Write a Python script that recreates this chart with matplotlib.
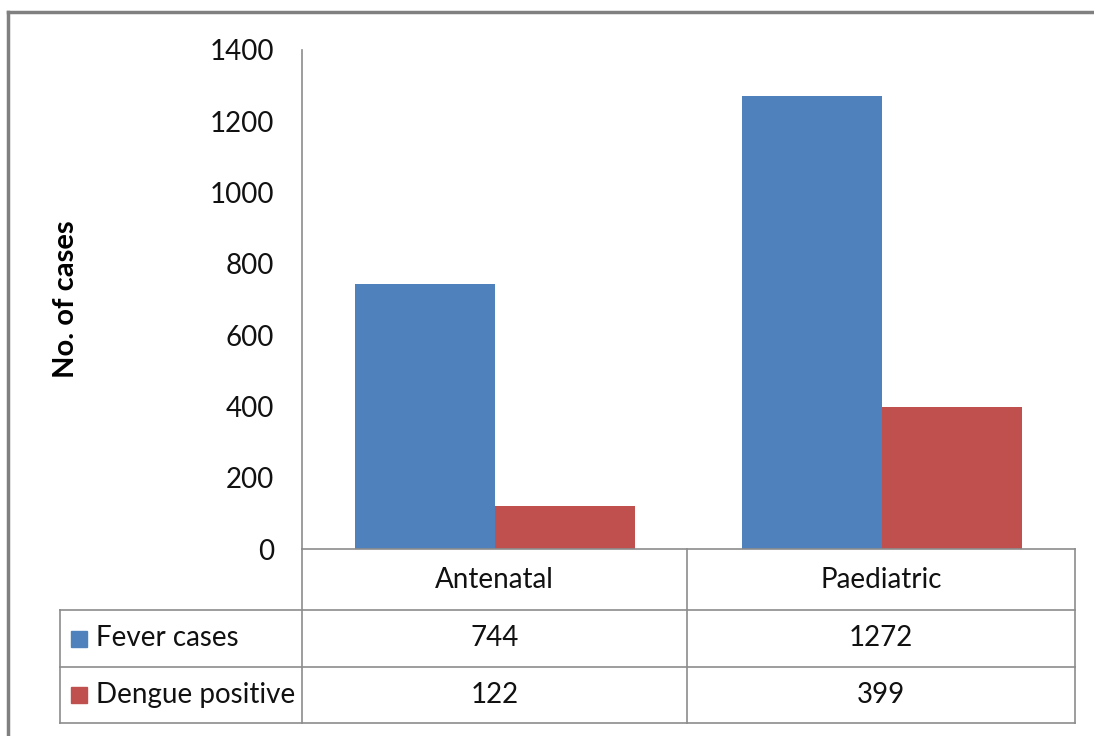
import matplotlib.pyplot as plt
from matplotlib.lines import Line2D
from matplotlib.patches import Rectangle
import numpy as np

plt.rcParams['font.family'] = ['Lato', 'DejaVu Sans']

categories = ['Antenatal', 'Paediatric']
series_names = ['Fever cases', 'Dengue positive']
fever_cases = [744, 1272]
dengue_positive = [122, 399]
y_ticks = [0, 200, 400, 600, 800, 1000, 1200, 1400]

colors = ['#4F81BD', '#C0504D']
grid_col = '#8C8C8C'
txt_col = '#111111'
fs = 20

W, H = 1094, 736
fig = plt.figure(figsize=(W / 100, H / 100), dpi=100)


def fx(px):
    return px / W


def fy(py):
    return 1 - py / H


# plot area
ax_l, ax_r, ax_t, ax_b = 302, 1075, 50, 549
ax = fig.add_axes([fx(ax_l), fy(ax_b), fx(ax_r) - fx(ax_l), fy(ax_t) - fy(ax_b)])

x = np.arange(len(categories))
bw = 0.362
ax.bar(x - bw / 2, fever_cases, bw, color=colors[0], label=series_names[0])
ax.bar(x + bw / 2, dengue_positive, bw, color=colors[1], label=series_names[1])

ax.set_xlim(-0.5, len(categories) - 0.5)
ax.set_ylim(0, 1400)
ax.set_yticks(y_ticks)
ax.set_yticklabels([str(v) for v in y_ticks], fontsize=fs, color=txt_col)
ax.tick_params(axis='y', length=0, pad=20)
ax.set_xticks([])
for s in ['top', 'right']:
    ax.spines[s].set_visible(False)
ax.spines['left'].set_color(grid_col)
ax.spines['bottom'].set_color(grid_col)
ax.spines['left'].set_linewidth(1.2)
ax.spines['bottom'].set_linewidth(1.2)

fig.text(fx(66), fy(299), 'No. of cases', rotation=90, ha='center', va='center',
         fontsize=21, fontweight='bold', color='#000000')


def hline(y, x0, x1):
    fig.add_artist(Line2D([fx(x0), fx(x1)], [fy(y), fy(y)], color=grid_col, lw=1.2))


def vline(xp, y0, y1):
    fig.add_artist(Line2D([fx(xp), fx(xp)], [fy(y0), fy(y1)], color=grid_col, lw=1.2))


# data table
tab_l = 60
rows_y = [549, 610, 667, 723]
col_x = [302, 687, 1075]
hline(rows_y[1], tab_l, col_x[-1])
hline(rows_y[2], tab_l, col_x[-1])
hline(rows_y[3], tab_l, col_x[-1])
for cx in col_x:
    vline(cx, rows_y[0], rows_y[3])
vline(tab_l, rows_y[1], rows_y[3])

for i, cat in enumerate(categories):
    cxm = (col_x[i] + col_x[i + 1]) / 2
    fig.text(fx(cxm), fy((rows_y[0] + rows_y[1]) / 2), cat, ha='center', va='center',
             fontsize=fs, color=txt_col)

table_vals = [fever_cases, dengue_positive]
for r, name in enumerate(series_names):
    ym = (rows_y[r + 1] + rows_y[r + 2]) / 2
    fig.add_artist(Rectangle((fx(71), fy(ym + 8)), fx(16), fy(0) - fy(16),
                             color=colors[r], transform=fig.transFigure))
    fig.text(fx(96), fy(ym), name, ha='left', va='center', fontsize=fs, color=txt_col)
    for i, v in enumerate(table_vals[r]):
        cxm = (col_x[i] + col_x[i + 1]) / 2
        fig.text(fx(cxm), fy(ym), str(v), ha='center', va='center',
                 fontsize=fs, color=txt_col)

# outer chart border
fig.add_artist(Line2D([fx(8), fx(W)], [fy(12), fy(12)], color='#808080', lw=2.5))
fig.add_artist(Line2D([fx(8), fx(8)], [fy(12), fy(H)], color='#808080', lw=2.5))

fig.savefig('out.png', dpi=100)
